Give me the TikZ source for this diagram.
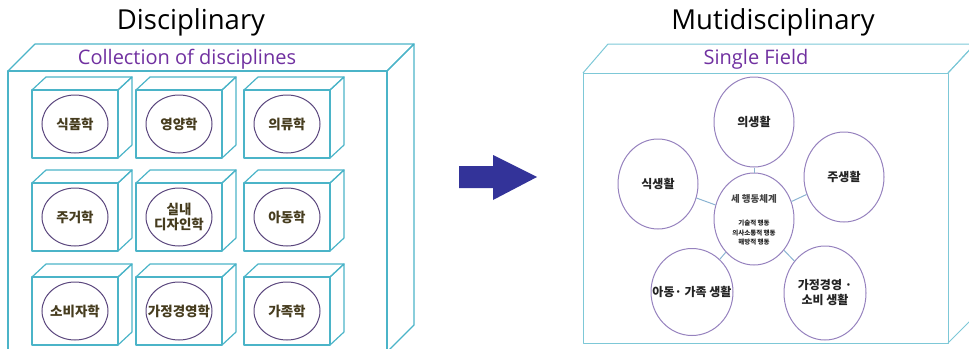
\documentclass[tikz,border=0pt]{standalone}
\usepackage{fontspec}
\usepackage{tikz}
\usetikzlibrary{shapes.geometric}
\setmainfont{Open Sans}
\newfontfamily\kor{Noto Sans CJK KR}
\definecolor{boxcyan}{RGB}{75, 180, 200}
\definecolor{boxlight}{RGB}{125, 200, 215}
\definecolor{fieldpurple}{RGB}{112, 48, 160}
\definecolor{discring}{RGB}{90, 70, 125}
\definecolor{lifering}{RGB}{150, 130, 190}
\definecolor{linkblue}{RGB}{140, 180, 210}
\definecolor{discink}{RGB}{70, 60, 30}
\definecolor{lifeink}{RGB}{35, 35, 35}
\definecolor{arrowblue}{RGB}{51, 51, 153}
\tikzstyle{cube}=[line width=1.2pt, color=boxcyan, line join=round]
\tikzstyle{cubelight}=[line width=1pt, color=boxlight, line join=round]
\tikzstyle{disc}=[ellipse, draw=discring, line width=1pt, minimum width=66pt, minimum height=58pt, inner sep=0pt]
\tikzstyle{disctext}=[font=\kor\bfseries\fontsize{13.5}{15}\selectfont, text=discink, align=center]
\tikzstyle{life}=[ellipse, draw=lifering, line width=1pt, inner sep=0pt]
\tikzstyle{lifetext}=[font=\kor\bfseries\fontsize{12}{15}\selectfont, text=lifeink, align=center]
\tikzstyle{link}=[line width=1pt, color=linkblue]

\begin{document}
\begin{tikzpicture}[x=1pt, y=-1pt]
    \useasboundingbox (0,0) rectangle (969,348);
    \clip (0,0) rectangle (969,348);

    % Titles
    \node (disctitle) at (191,22) {\fontsize{27.5}{30}\selectfont Disciplinary};
    \node (multititle) at (773,22) {\fontsize{27.5}{30}\selectfont Mutidisciplinary};
    \node[text=fieldpurple] (collect) at (187,59) {\fontsize{20}{22}\selectfont Collection of disciplines};
    \node[text=fieldpurple] (single) at (756,59) {\fontsize{20}{22}\selectfont Single Field};

    % Outer box, disciplinary
    \draw[cube] (8,71) rectangle (387,352);
    \draw[cube] (8,71) -- (35,44) -- (414,44) -- (387,71);
    \draw[cube] (387,71) -- (414,44) -- (414,325) -- (387,352);

    % Disciplines
    \foreach \x/\y/\name/\txt in {32/90/food/식품학, 136/90/nutrition/영양학, 244/90/clothing/의류학,
            32/183/housing/주거학, 136/183/interior/{실내\\디자인학}, 244/183/child/아동학,
            32/277/consumer/소비자학, 136/277/homemgmt/가정경영학, 244/277/family/가족학} {
        \draw[cube] (\x,\y) rectangle (\x+86,\y+68);
        \draw[cube] (\x,\y) -- (\x+14,\y-13) -- (\x+100,\y-13) -- (\x+86,\y);
        \draw[cube] (\x+86,\y) -- (\x+100,\y-13) -- (\x+100,\y+55) -- (\x+86,\y+68);
        \node[disc, label={[disctext]center:\txt}] (\name) at (\x+43,\y+34) {};
    }

    % Arrow
    \fill[arrowblue] (459,166) -- (493,166) -- (493,155) -- (537,177) -- (493,200) -- (493,188) -- (459,188) -- cycle;

    % Outer box, multidisciplinary
    \draw[cubelight] (583,73) rectangle (948,343);
    \draw[cubelight] (583,73) -- (608,44) -- (975,44) -- (948,73);
    \draw[cubelight] (948,73) -- (975,44) -- (975,316) -- (948,343);

    % Areas of life
    \node[life, minimum width=80pt, minimum height=90pt, label={[lifetext]center:의생활}] (clothes) at (754,122) {};
    \node[life, minimum width=80pt, minimum height=90pt, label={[lifetext]center:식생활}] (meals) at (658,184) {};
    \node[life, minimum width=80pt, minimum height=90pt, label={[lifetext]center:주생활}] (home) at (844,177) {};
    \node[life, minimum width=82pt, minimum height=87pt, label={[lifetext]center:아동· 가족 생활}] (kids) at (692,292) {};
    \node[life, minimum width=82pt, minimum height=94pt, label={[lifetext]center:{가정경영 ·\\소비 생활}}] (spend) at (825,293) {};
    \node[life, minimum width=80pt, minimum height=92pt] (core) at (754,219) {};
    \node[font=\kor\bfseries\fontsize{9.5}{11}\selectfont, text=lifeink!85] (coretitle) at (754,199) {세 행동체계};
    \node[font=\kor\bfseries\fontsize{6.5}{9.5}\selectfont, text=lifeink, align=center] (corelist) at (754,233) {기술적 행동\\의사소통적 행동\\해방적 행동};

    % Links
    \foreach \n in {clothes, meals, home, kids, spend}
        \draw[link] (core) -- (\n);

\end{tikzpicture}
\end{document}
